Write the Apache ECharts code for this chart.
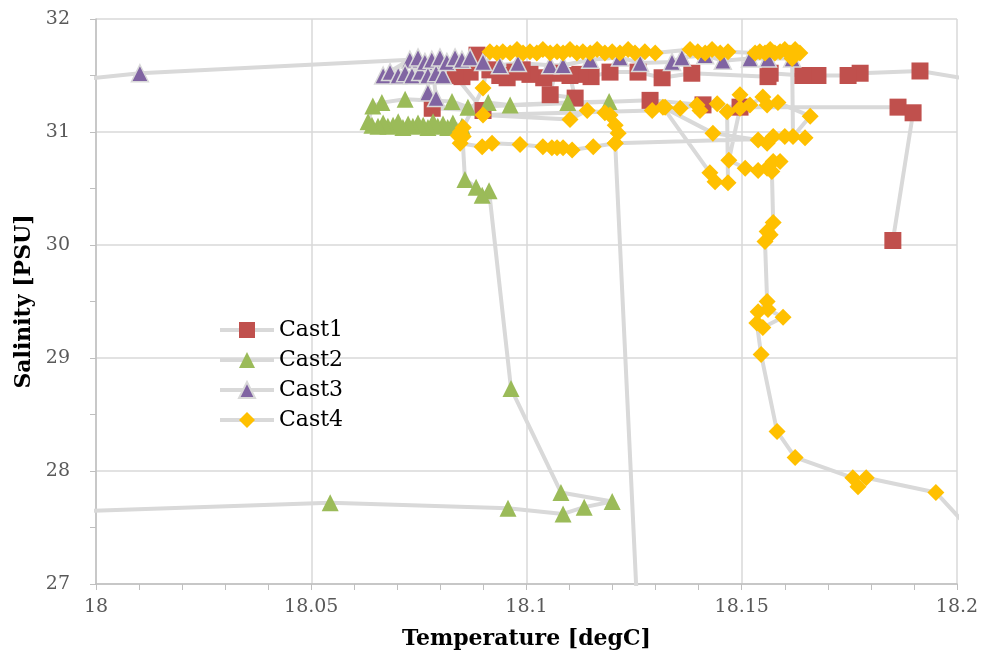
<!DOCTYPE html>
<html>
<head>
<meta charset="utf-8">
<script src="https://cdn.jsdelivr.net/npm/echarts@6/dist/echarts.min.js"></script>
<style>
  html, body { margin: 0; padding: 0; background: #fff; }
  #chart { width: 983px; height: 657px; }
</style>
</head>
<body>
<div id="chart"></div>
<script>
// [temperature degC, salinity PSU], in cast order (some points sit outside the axes and get clipped)
const cast1 = [
  [18.21, 31.42], [18.1914, 31.54], [18.1775, 31.52], [18.1747, 31.50], [18.1677, 31.50],
  [18.1642, 31.50], [18.1566, 31.52], [18.1561, 31.49], [18.1384, 31.52], [18.1315, 31.48],
  [18.1259, 31.53], [18.1194, 31.53], [18.1150, 31.49], [18.1124, 31.51], [18.1101, 31.50],
  [18.1113, 31.30], [18.1055, 31.33], [18.1066, 31.52], [18.1040, 31.48], [18.1008, 31.51],
  [18.0990, 31.55], [18.0973, 31.53], [18.0955, 31.48], [18.0938, 31.50], [18.0915, 31.55],
  [18.0885, 31.68], [18.0869, 31.53], [18.0850, 31.49], [18.0834, 31.50], [18.0899, 31.19],
  [18.0781, 31.21], [18.1287, 31.28], [18.1410, 31.24], [18.1496, 31.22], [18.1863, 31.22],
  [18.1898, 31.17], [18.1851, 30.04]
];

const cast2 = [
  [17.978, 27.62], [18.0544, 27.72], [18.0957, 27.67], [18.1085, 27.62], [18.1134, 27.68],
  [18.1199, 27.73], [18.1080, 27.81], [18.0964, 28.73], [18.0913, 30.48], [18.0897, 30.44],
  [18.0883, 30.51], [18.0857, 30.58], [18.0850, 31.05], [18.0829, 31.08], [18.0817, 31.04],
  [18.0806, 31.07], [18.0794, 31.05], [18.0783, 31.09], [18.0771, 31.04], [18.0760, 31.06],
  [18.0748, 31.08], [18.0736, 31.05], [18.0725, 31.07], [18.0713, 31.04], [18.0702, 31.09],
  [18.0690, 31.06], [18.0678, 31.05], [18.0667, 31.08], [18.0655, 31.05], [18.0641, 31.06],
  [18.0632, 31.09], [18.0643, 31.23], [18.0664, 31.26], [18.0718, 31.29], [18.0827, 31.27],
  [18.0864, 31.22], [18.0911, 31.26], [18.0962, 31.24], [18.1096, 31.26], [18.1192, 31.27]
];

const cast3 = [
  [17.98, 31.40], [18.0102, 31.52], [18.0729, 31.64], [18.0667, 31.50], [18.0683, 31.53],
  [18.0702, 31.50], [18.0718, 31.52], [18.0734, 31.50], [18.0748, 31.66], [18.0753, 31.53],
  [18.0764, 31.62], [18.0771, 31.50], [18.0771, 31.35], [18.0790, 31.30], [18.0780, 31.64],
  [18.0790, 31.52], [18.0799, 31.66], [18.0806, 31.50], [18.0815, 31.62], [18.0834, 31.66],
  [18.0850, 31.64], [18.0869, 31.66], [18.0899, 31.62], [18.0938, 31.59], [18.0980, 31.61],
  [18.1055, 31.59], [18.1085, 31.59], [18.1148, 31.64], [18.1217, 31.66], [18.1264, 31.61],
  [18.1338, 31.62], [18.1361, 31.66], [18.1415, 31.68], [18.1456, 31.63], [18.1519, 31.65],
  [18.1561, 31.65], [18.1617, 31.65]
];

const cast4 = [
  [18.205, 27.40], [18.1951, 27.81], [18.1789, 27.94], [18.1770, 27.86], [18.1758, 27.94],
  [18.1624, 28.12], [18.1582, 28.35], [18.1545, 29.03], [18.1535, 29.31], [18.1549, 29.27],
  [18.1596, 29.36], [18.1561, 29.43], [18.1538, 29.41], [18.1559, 29.50], [18.1554, 30.03],
  [18.1566, 30.09], [18.1559, 30.12], [18.1573, 30.20], [18.1570, 30.65], [18.1559, 30.68],
  [18.1589, 30.74], [18.1573, 30.74], [18.1538, 30.66], [18.1508, 30.68], [18.1470, 30.75],
  [18.1496, 31.21], [18.1496, 31.33], [18.1519, 31.24], [18.1549, 31.31], [18.1559, 31.24],
  [18.1584, 31.26], [18.1659, 31.14], [18.1619, 30.96], [18.1617, 31.65],
  [18.1635, 31.70], [18.1624, 31.73], [18.1612, 31.70], [18.1600, 31.73], [18.1589, 31.71],
  [18.1577, 31.70], [18.1566, 31.73], [18.1554, 31.70], [18.1542, 31.71], [18.1531, 31.70],
  [18.1468, 31.71], [18.1450, 31.70], [18.1431, 31.73], [18.1415, 31.70], [18.1398, 31.71],
  [18.1380, 31.73], [18.1299, 31.70], [18.1275, 31.71], [18.1252, 31.70], [18.1236, 31.73],
  [18.1217, 31.70], [18.1199, 31.71], [18.1182, 31.70], [18.1164, 31.73], [18.1148, 31.70],
  [18.1131, 31.71], [18.1117, 31.70], [18.1101, 31.73], [18.1085, 31.70], [18.1071, 31.71],
  [18.1055, 31.70], [18.1038, 31.73], [18.1024, 31.70], [18.1008, 31.71], [18.0992, 31.70],
  [18.0978, 31.73], [18.0962, 31.70], [18.0945, 31.71], [18.0931, 31.70], [18.0915, 31.71],
  [18.0899, 31.39], [18.0853, 31.04], [18.0846, 31.00], [18.0841, 30.97], [18.0853, 30.96],
  [18.0846, 30.90], [18.0897, 30.87], [18.0920, 30.90], [18.0985, 30.89], [18.1038, 30.87],
  [18.1059, 30.86], [18.1071, 30.86], [18.1085, 30.86], [18.1106, 30.84], [18.1155, 30.87],
  [18.1206, 30.90], [18.1213, 30.99], [18.1206, 31.06], [18.1194, 31.15], [18.1182, 31.17],
  [18.1141, 31.19], [18.1101, 31.11], [18.0899, 31.15], [18.1292, 31.19], [18.1322, 31.22],
  [18.1357, 31.21], [18.1396, 31.24], [18.1403, 31.19], [18.1443, 31.25], [18.1466, 31.18],
  [18.1468, 30.55], [18.1438, 30.56], [18.1426, 30.64], [18.1317, 31.22], [18.1433, 30.99],
  [18.1538, 30.93], [18.1559, 30.90], [18.1573, 30.96], [18.1600, 30.96], [18.1647, 30.95],
  [18.1206, 30.90], [18.1267, 26.00]
];

const seriesNames = ["Cast1", "Cast2", "Cast3", "Cast4"];
const xTicks = [18, 18.05, 18.1, 18.15, 18.2];
const yTicks = [27, 28, 29, 30, 31, 32];

const font = "'DejaVu Serif', 'Liberation Serif', serif";
const lineColor = "#d9d9d9";

const makeSeries = (name, data, symbol, size, color, border) => ({
  name: name,
  type: "line",
  data: data,
  symbol: symbol,
  symbolSize: size,
  showAllSymbol: true,
  clip: true,
  animation: false,
  lineStyle: { color: lineColor, width: 4 },
  itemStyle: {
    color: color,
    borderColor: border || color,
    borderWidth: border ? 1.5 : 0,
  },
  emphasis: { disabled: true },
});

const chart = echarts.init(document.getElementById("chart"));

chart.setOption({
  backgroundColor: "#fff",
  animation: false,
  textStyle: { fontFamily: font },
  grid: { left: 96, right: 26, top: 19, bottom: 73 },
  legend: {
    orient: "vertical",
    left: 218,
    top: 319,
    padding: 0,
    itemWidth: 54,
    itemHeight: 20,
    itemGap: 8,
    data: seriesNames,
    lineStyle: { width: 4, color: lineColor },
    textStyle: { fontFamily: font, fontSize: 22, color: "#000" },
  },
  xAxis: {
    type: "value",
    min: xTicks[0],
    max: xTicks[xTicks.length - 1],
    interval: 0.05,
    name: "Temperature [degC]",
    nameLocation: "middle",
    nameGap: 44,
    nameTextStyle: { fontFamily: font, fontSize: 22, fontWeight: "bold", color: "#000" },
    axisLine: { show: true, lineStyle: { color: "#bfbfbf", width: 1.5 } },
    axisTick: { show: true, inside: false, length: 6, lineStyle: { color: "#bfbfbf" } },
    minorTick: { show: true, splitNumber: 5, length: 6, lineStyle: { color: "#bfbfbf" } },
    axisLabel: { fontFamily: font, fontSize: 19, color: "#595959", margin: 14 },
    splitLine: { show: true, lineStyle: { color: lineColor, width: 1.5 } },
  },
  yAxis: {
    type: "value",
    min: yTicks[0],
    max: yTicks[yTicks.length - 1],
    interval: 1,
    name: "Salinity [PSU]",
    nameLocation: "middle",
    nameGap: 58,
    nameTextStyle: { fontFamily: font, fontSize: 22, fontWeight: "bold", color: "#000" },
    axisLine: { show: true, lineStyle: { color: "#bfbfbf", width: 1.5 } },
    axisTick: { show: true, inside: false, length: 6, lineStyle: { color: "#bfbfbf" } },
    minorTick: { show: true, splitNumber: 2, length: 6, lineStyle: { color: "#bfbfbf" } },
    axisLabel: { fontFamily: font, fontSize: 19, color: "#595959", margin: 26 },
    splitLine: { show: true, lineStyle: { color: lineColor, width: 1.5 } },
  },
  series: [
    makeSeries(seriesNames[0], cast1, "rect", 17, "#c0504d"),
    makeSeries(seriesNames[1], cast2, "triangle", 17, "#9bbb59"),
    makeSeries(seriesNames[2], cast3, "triangle", 17, "#8064a2", "#d9d9d9"),
    makeSeries(seriesNames[3], cast4, "diamond", 17, "#ffc000"),
  ],
});
</script>
</body>
</html>
